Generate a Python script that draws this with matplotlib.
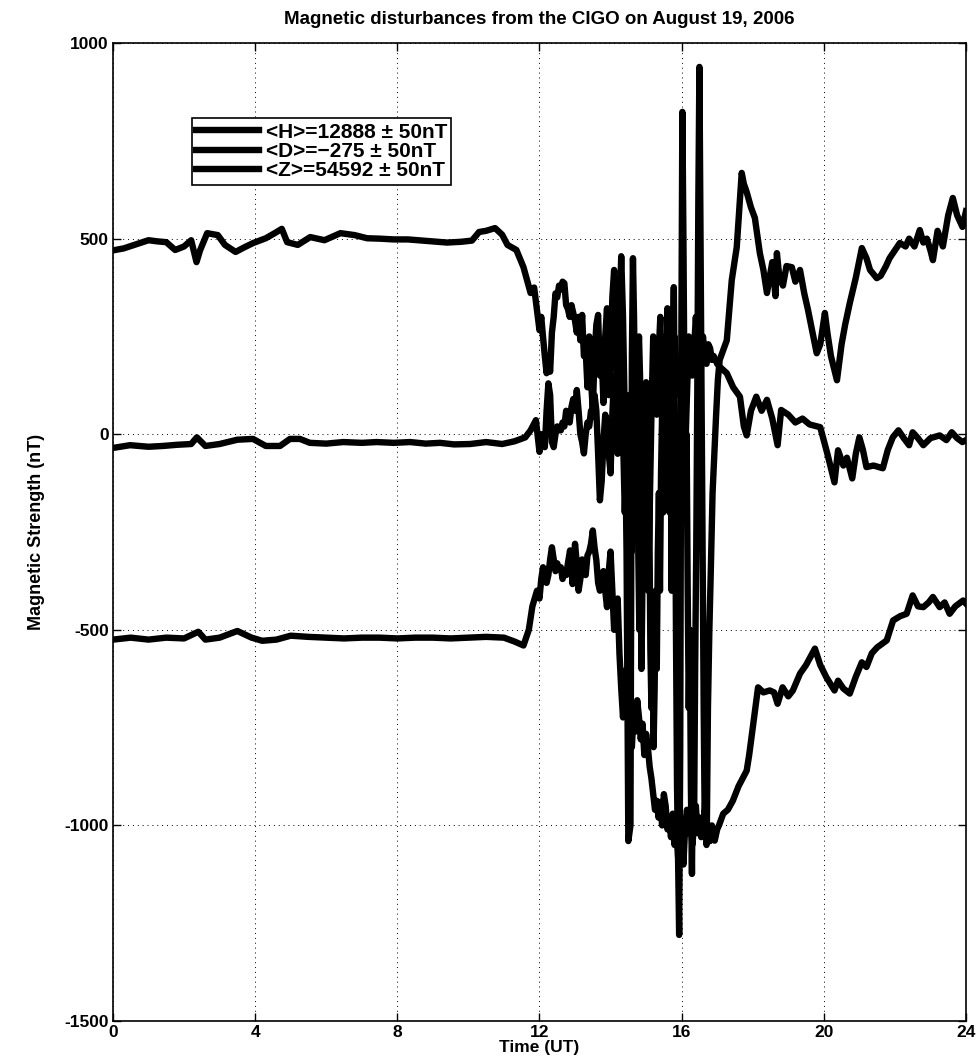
import numpy as np
import matplotlib.pyplot as plt

# Horizontal component <H> (hours UT, nT)
h_time = [0, 0.3, 0.6, 1.0, 1.25, 1.5, 1.75, 2.0, 2.2, 2.35, 2.45, 2.65, 2.95, 3.15, 3.45,
          3.7, 3.95, 4.3, 4.55, 4.75, 4.9, 5.2, 5.55, 5.95, 6.4, 6.8, 7.15, 7.5, 7.9, 8.3,
          8.7, 9.1, 9.4, 9.8, 10.1, 10.3, 10.5, 10.75, 10.95, 11.1, 11.35, 11.55, 11.75,
          11.85,
          12.0, 12.05, 12.1, 12.15, 12.2, 12.25, 12.3, 12.35, 12.4, 12.45, 12.5, 12.55,
          12.6, 12.65, 12.7, 12.75, 12.8, 12.85, 12.9, 12.95, 13.0, 13.05, 13.1, 13.15,
          13.2, 13.25, 13.3, 13.35, 13.4, 13.45, 13.5, 13.55, 13.6, 13.65, 13.7, 13.75,
          13.8, 13.85, 13.9, 13.95, 14.0, 14.05, 14.1, 14.15, 14.2, 14.25, 14.3, 14.35,
          14.4, 14.45, 14.5, 14.56,
          14.60, 14.63, 14.66, 14.69, 14.72, 14.75, 14.78, 14.81, 14.84, 14.87, 14.90,
          14.93, 14.96, 15.00, 15.03, 15.06, 15.09, 15.12, 15.15, 15.18, 15.21, 15.24,
          15.27, 15.30, 15.33, 15.36, 15.39, 15.42, 15.45, 15.48, 15.51, 15.54, 15.57,
          15.60, 15.63, 15.66, 15.69, 15.72, 15.75, 15.78, 15.81, 15.84, 15.87, 15.90,
          15.93, 15.96, 15.99, 16.02, 16.05, 16.08, 16.11, 16.14, 16.17, 16.20, 16.23,
          16.26, 16.29, 16.32, 16.35, 16.38, 16.41, 16.44, 16.47, 16.50, 16.53, 16.56,
          16.59, 16.62, 16.65, 16.68, 16.71, 16.74, 16.78, 16.82, 16.87, 16.92, 16.97,
          17.02, 17.07,
          17.27, 17.41, 17.55, 17.69, 17.75, 17.83, 17.95, 18.06, 18.2, 18.3, 18.4, 18.55,
          18.64, 18.68, 18.75, 18.85, 18.95, 19.1, 19.2, 19.33, 19.45, 19.55, 19.8, 19.9,
          20.03, 20.1, 20.2, 20.37, 20.5, 20.6, 20.73, 20.9, 21.07, 21.2, 21.3, 21.49,
          21.6, 21.75, 21.85, 22.0, 22.14, 22.3, 22.4, 22.55, 22.7, 22.8, 22.9, 23.0,
          23.07, 23.2, 23.35, 23.5, 23.63, 23.75, 23.9, 24.0]
h_vals = [470, 475, 484, 496, 493, 491, 471, 480, 496, 440, 470, 514, 509, 484, 466,
          478, 489, 501, 514, 525, 491, 484, 504, 496, 514, 509, 501, 500, 498, 498,
          495, 492, 490, 492, 495, 517, 520, 527, 510, 484, 471, 427, 361,
          375,
          266, 300, 248, 200, 156, 180, 160, 260, 300, 360, 350, 380,
          370, 390, 386, 330, 320, 300, 330, 310, 290, 260, 300, 240,
          305, 200, 215, 120, 250, 140, 61, 200, 280, 305, 150, 200,
          80, 250, 322, 100, 180, 350, 420, 200, 100, 300, 455, 300,
          50, -300, -1040, -1000,
          200, 450, 300, 100, -150, 50, -300, -500, -250, -600, -350,
          -100, 80, 133, -150, -400, -200, -550, -700, -500, -800, -650,
          -400, -600, -300, -150, -400, -100, 50, -200, 100, 250, 0,
          322, 150, -200, 0, -400, 200, 376, 0, -500, -900, -1100,
          -1280, -800, 200, 824, 500, 100, -200, 0, -400, -700, -500,
          -900, -1124, -800, -1000, -600, -300, 100, 600, 939, 500, 100,
          -300, -700, -1000, -850, -1000, -700, -500, -350, -150, -50, 50,
          140, 190,
          240, 394, 478, 668, 640, 619, 580, 553, 463, 420, 361, 440,
          353, 463, 400, 380, 430, 427, 390, 420, 360, 320, 207, 230,
          310, 260, 200, 138, 230, 280, 335, 400, 476, 450, 420, 399,
          405, 430, 450, 470, 489, 480, 500, 480, 522, 490, 500, 470,
          445, 520, 480, 560, 604, 560, 530, 570]

# Declination component <D>
d_time = [0, 0.48, 1.0, 1.4, 1.8, 2.2, 2.36, 2.6, 3.0, 3.5, 3.94, 4.3, 4.7, 4.98, 5.26,
          5.54, 6.0, 6.48, 7.0, 7.42, 7.9, 8.36, 8.8, 9.2, 9.6, 10.05, 10.5, 10.95, 11.3,
          11.6, 11.75, 11.9,
          12.0, 12.05, 12.1, 12.15, 12.2, 12.25, 12.3, 12.35, 12.4, 12.45, 12.5, 12.55,
          12.6, 12.65, 12.7, 12.75, 12.8, 12.85, 12.9, 12.95, 13.0, 13.05, 13.1, 13.15,
          13.2, 13.25, 13.3, 13.35, 13.4, 13.45, 13.5, 13.55, 13.6, 13.65, 13.7, 13.75,
          13.8, 13.85, 13.9, 13.95, 14.0, 14.05, 14.1, 14.15, 14.2, 14.25, 14.3, 14.35,
          14.4, 14.45, 14.5, 14.55, 14.6, 14.65, 14.7, 14.75, 14.8, 14.85, 14.9, 14.95,
          15.0, 15.05, 15.1, 15.15, 15.2, 15.25, 15.3, 15.35, 15.4, 15.45, 15.5, 15.55,
          15.6, 15.65, 15.7, 15.75, 15.8, 15.85, 15.9, 15.95, 16.0, 16.05, 16.1, 16.15,
          16.2, 16.25, 16.3, 16.35, 16.4, 16.45, 16.5, 16.55, 16.6, 16.65, 16.7, 16.75,
          16.8, 16.85, 16.9, 16.95, 17.0, 17.1,
          17.27, 17.45, 17.64, 17.75, 17.83, 17.95, 18.1, 18.25, 18.4, 18.55, 18.7, 18.8,
          19.0, 19.2, 19.4, 19.6, 19.9, 20.1, 20.3, 20.4, 20.55, 20.65, 20.8, 20.9, 21.0,
          21.1, 21.2, 21.4, 21.66, 21.8, 21.94, 22.1, 22.25, 22.4, 22.5, 22.65, 22.8,
          23.0, 23.26, 23.45, 23.6, 23.75, 23.9, 24.0]
d_vals = [-35, -28, -32, -30, -27, -25, -8, -30, -25, -14, -12, -30, -30, -12, -12,
          -22, -24, -20, -22, -20, -22, -20, -24, -22, -26, -25, -20, -25, -18,
          -8, 10, 36,
          -45, 0, -10, -33, 60, 130, 100, -20, -33, 0, 20, 10,
          10, 30, 20, 60, 44, 30, 70, 90, 60, 113, 60, 0,
          -20, -49, 0, 30, 20, 60, 44, 100, 60, -50, -169, -120,
          -20, 50, 30, -50, -100, 50, 150, 80, -50, 100, 200, 0,
          -200, -50, 100, -100, -300, -100, 0, 150, 250, 80, -100, 0,
          100, -50, -200, 50, 250, 150, 50, 200, 300, 100, -100, 50,
          200, 100, 0, 150, 250, 150, 100, 180, 200, 80, -50, 100,
          250, 200, 150, 220, 300, 200, 100, 180, 250, 200, 180, 230,
          220, 190, 200, 190, 180, 170,
          156, 120, 96, 20, -3, 60, 96, 60, 88, 40, -28, 62,
          50, 30, 40, 25, 18, -50, -123, -41, -80, -60, -113, -50, -8,
          -40, -84, -80, -87, -40, -8, 10, -10, -28, 5, -10, -28,
          -10, -3, -15, 5, -10, -20, -15]

# Vertical component <Z>
z_time = [0, 0.5, 1.0, 1.5, 2.0, 2.4, 2.6, 3.0, 3.5, 3.9, 4.2, 4.6, 5.0, 5.5, 6.0, 6.5,
          7.0, 7.5, 8.0, 8.5, 9.0, 9.5, 10.0, 10.5, 11.0, 11.3, 11.55, 11.7, 11.8, 11.93,
          12.0, 12.05, 12.1, 12.15, 12.2, 12.25, 12.3, 12.35, 12.4, 12.45, 12.5, 12.55,
          12.6, 12.65, 12.7, 12.75, 12.8, 12.86, 12.9, 12.93, 12.97, 13.0, 13.05, 13.1,
          13.15, 13.2, 13.25, 13.3, 13.35, 13.4, 13.45, 13.5, 13.55, 13.6, 13.65, 13.7,
          13.75, 13.8, 13.85, 13.9, 13.95, 14.0, 14.05, 14.1, 14.15, 14.2, 14.25,
          14.30, 14.35, 14.40, 14.45, 14.50, 14.55, 14.60, 14.65, 14.70, 14.75, 14.80,
          14.85, 14.90, 14.95, 15.00, 15.05, 15.10, 15.15, 15.20, 15.25, 15.30, 15.35,
          15.40, 15.45, 15.50, 15.55, 15.60, 15.65, 15.70, 15.75, 15.80, 15.85, 15.90,
          15.95, 16.00, 16.05, 16.10, 16.15, 16.20, 16.25, 16.30, 16.35, 16.40, 16.45,
          16.50, 16.55, 16.60, 16.65, 16.70, 16.75, 16.80, 16.85, 16.93, 17.0, 17.05,
          17.17, 17.3, 17.44,
          17.6, 17.83, 17.9, 18.0, 18.15, 18.3, 18.48, 18.6, 18.7, 18.84, 19.0, 19.13,
          19.33, 19.5, 19.75, 19.9, 20.07, 20.3, 20.4, 20.55, 20.73, 20.9, 21.07, 21.2,
          21.35, 21.5, 21.77, 21.95, 22.15, 22.33, 22.5, 22.65, 22.8, 22.95, 23.07, 23.26,
          23.4, 23.54, 23.7, 23.92, 24.0]
z_vals = [-525, -520, -525, -520, -522, -505, -525, -520, -503, -520, -528, -525, -515,
          -518, -520, -522, -520, -520, -522, -520, -520, -522, -520, -518, -520, -530,
          -540, -500, -440, -400,
          -420, -370, -340, -350, -380, -360, -320, -289, -320, -350, -330, -345,
          -340, -370, -350, -360, -330, -297, -340, -383, -330, -280, -330, -400,
          -370, -320, -330, -360, -310, -300, -280, -246, -290, -322, -380, -400,
          -380, -350, -400, -442, -350, -300, -400, -500, -450, -420, -560,
          -650, -724, -650, -600, -700, -750, -800, -700, -760, -680, -724,
          -780, -740, -820, -766, -800, -850, -880, -920, -960, -937, -980,
          -940, -1000, -920, -950, -1010, -988, -1030, -970, -1050, -1000, -1080,
          -980, -1040, -1100, -1000, -960, -1020, -980, -1050, -1000, -950, -1020,
          -980, -1030, -1000, -960, -1050, -1020, -1040, -1000, -1039, -1010, -1000,
          -970, -960, -937,
          -900, -860, -820, -750, -647, -660, -655, -660, -689, -647, -670, -655,
          -612, -590, -548, -590, -621, -655, -630, -650, -663, -620, -583, -595,
          -560, -545, -527, -476, -465, -459, -412, -440, -442, -430, -416, -442,
          -430, -459, -440, -425, -433]

labels = ['<H>=12888 \u00b1 50nT', '<D>=\u2212275 \u00b1 50nT', '<Z>=54592 \u00b1 50nT']

plt.rcParams['font.family'] = ['Liberation Sans', 'DejaVu Sans']
plt.rcParams['font.weight'] = 'bold'

fig = plt.figure(figsize=(9.79, 10.63), dpi=100)
ax = fig.add_axes([0.1154, 0.0395, 0.8713, 0.92])

for t, v, lab in [(h_time, h_vals, labels[0]), (d_time, d_vals, labels[1]),
                  (z_time, z_vals, labels[2])]:
    ax.plot(t, v, color='black', lw=4.6, label=lab, solid_joinstyle='round')

ax.set_xlim(0, 24)
ax.set_ylim(-1500, 1000)
ax.set_xticks(np.arange(0, 25, 4))
ax.set_yticks([-1500, -1000, -500, 0, 500, 1000])
ax.set_yticklabels(['-1500', '-1000', '-500', '0', '500', '1000'])
ax.tick_params(direction='in', top=True, right=True, length=6, width=1, labelsize=12.5, pad=3)
for lab in ax.get_xticklabels() + ax.get_yticklabels():
    lab.set_fontweight('bold')
ax.grid(True, color='black', linestyle=(0, (1, 4)), linewidth=0.7)
for sp in ax.spines.values():
    sp.set_linewidth(1.2)

ax.set_xlabel('Time (UT)', fontsize=12.5, fontweight='bold', labelpad=0)
ax.set_ylabel('Magnetic Strength (nT)', fontsize=13, fontweight='bold', labelpad=14)
ax.set_title('Magnetic disturbances from the CIGO on August 19, 2006',
             fontsize=13.5, fontweight='bold', pad=14)

leg = ax.legend(loc='upper left', bbox_to_anchor=(0.0926, 0.923), borderaxespad=0,
                fancybox=False, edgecolor='black', framealpha=1, handlelength=3.0,
                borderpad=0.2, labelspacing=0.02, handletextpad=0.35,
                prop={'weight': 'bold', 'size': 15})
leg.get_frame().set_linewidth(1.2)

fig.savefig('out.png', dpi=100)
